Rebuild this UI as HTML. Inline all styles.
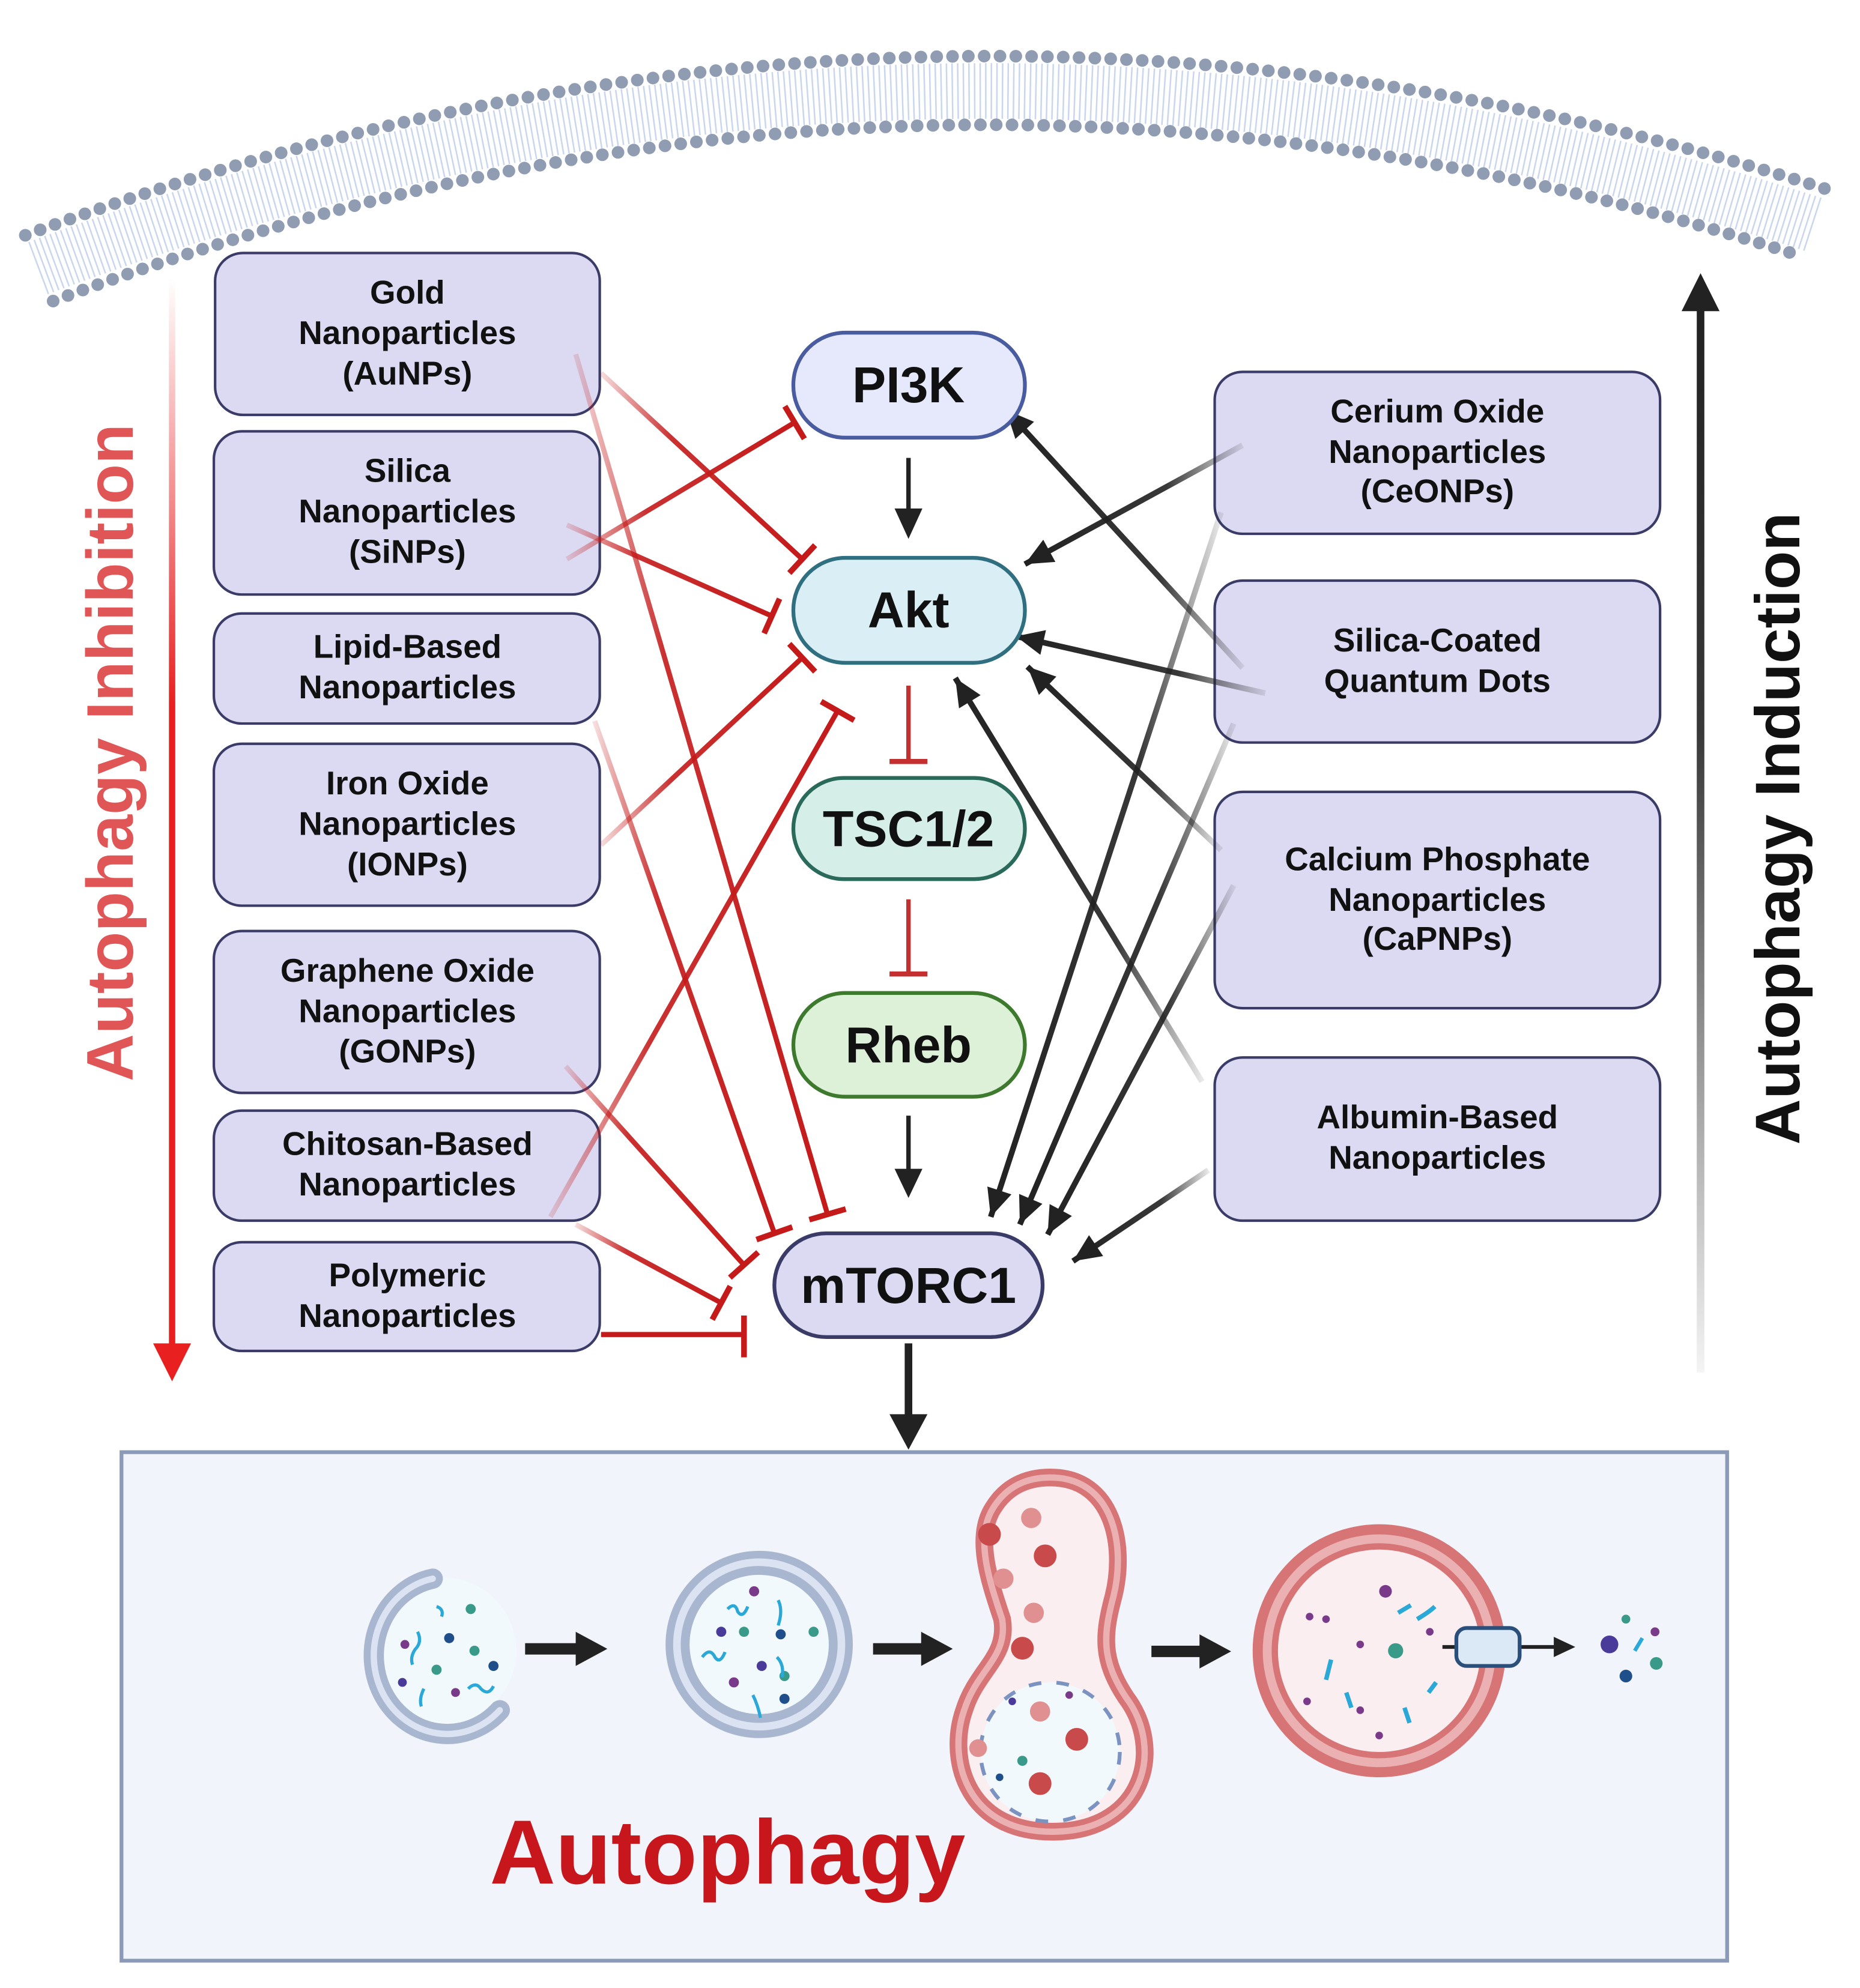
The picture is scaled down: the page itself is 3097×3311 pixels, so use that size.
<!DOCTYPE html>
<html><head><meta charset="utf-8"><style>
html,body{margin:0;padding:0;background:#fff;}
svg{display:block;}
text{font-family:"Liberation Sans",sans-serif;font-weight:bold;}
</style></head><body>
<svg width="3097" height="3311" viewBox="0 0 1470 1571.6" xmlns="http://www.w3.org/2000/svg">
<defs>
<linearGradient id="rg" x1="0" y1="0" x2="1" y2="0"><stop offset="0" stop-color="#c41a1a" stop-opacity="0.15"/><stop offset="0.35" stop-color="#c41a1a" stop-opacity="0.9"/><stop offset="1" stop-color="#c41a1a"/></linearGradient>
<linearGradient id="bg" x1="1" y1="0" x2="0" y2="0"><stop offset="0" stop-color="#222" stop-opacity="0.1"/><stop offset="0.35" stop-color="#222" stop-opacity="0.9"/><stop offset="1" stop-color="#222"/></linearGradient>
<linearGradient id="inh" x1="0" y1="0" x2="0" y2="1"><stop offset="0" stop-color="#e82020" stop-opacity="0"/><stop offset="0.4" stop-color="#e82020"/><stop offset="1" stop-color="#e82020"/></linearGradient>
<linearGradient id="ind" x1="0" y1="1" x2="0" y2="0"><stop offset="0" stop-color="#222" stop-opacity="0.05"/><stop offset="0.6" stop-color="#222" stop-opacity="0.9"/><stop offset="1" stop-color="#222"/></linearGradient>
<marker id="tb" markerUnits="userSpaceOnUse" markerWidth="40" markerHeight="40" refX="20" refY="20" orient="auto"><path d="M20,5 L20,35" stroke="#c41a1a" stroke-width="4.5"/></marker>
<marker id="ah" markerUnits="userSpaceOnUse" markerWidth="30" markerHeight="30" refX="26" refY="15" orient="auto"><path d="M4,5 L26,15 L4,25 Z" fill="#222"/></marker>
</defs>

<!-- membrane -->
<path d="M30,212 Q730,-50 1435,178" fill="none" stroke="#c9d6ee" stroke-width="44" stroke-dasharray="1.2 3.2"/>
<path d="M20,186 Q730,-78 1445,150" fill="none" stroke="#8f9cb2" stroke-width="10" stroke-linecap="round" stroke-dasharray="0 12.5"/>
<path d="M42,238 Q730,-22 1425,203" fill="none" stroke="#8f9cb2" stroke-width="10" stroke-linecap="round" stroke-dasharray="0 12.5"/>

<!-- side arrows -->
<rect x="133.5" y="220" width="5" height="845" fill="url(#inh)"/>
<path d="M121,1062 L151,1062 L136,1092 Z" fill="#e82020"/>
<text transform="translate(105,595) rotate(-90)" text-anchor="middle" font-size="52" fill="#e05555">Autophagy Inhibition</text>
<rect x="1341" y="240" width="6" height="845" fill="url(#ind)"/>
<path d="M1329,246 L1359,246 L1344,216 Z" fill="#222"/>
<text transform="translate(1422,655) rotate(-90)" text-anchor="middle" font-size="50" fill="#111">Autophagy Induction</text>

<!-- left boxes -->
<g fill="#dcdaf2" stroke="#3b3b68" stroke-width="2">
<rect x="170" y="200" width="304" height="128" rx="22"/>
<rect x="169" y="341" width="305" height="129" rx="22"/>
<rect x="169" y="485" width="305" height="87" rx="22"/>
<rect x="169" y="588" width="305" height="128" rx="22"/>
<rect x="169" y="736" width="305" height="128" rx="22"/>
<rect x="169" y="878" width="305" height="87" rx="22"/>
<rect x="169" y="982" width="305" height="86" rx="22"/>
</g>
<g font-size="26" text-anchor="middle" fill="#111">
<text x="322" y="240">Gold</text><text x="322" y="272">Nanoparticles</text><text x="322" y="304">(AuNPs)</text>
<text x="322" y="381">Silica</text><text x="322" y="413">Nanoparticles</text><text x="322" y="445">(SiNPs)</text>
<text x="322" y="520">Lipid-Based</text><text x="322" y="552">Nanoparticles</text>
<text x="322" y="628">Iron Oxide</text><text x="322" y="660">Nanoparticles</text><text x="322" y="692">(IONPs)</text>
<text x="322" y="776">Graphene Oxide</text><text x="322" y="808">Nanoparticles</text><text x="322" y="840">(GONPs)</text>
<text x="322" y="913">Chitosan-Based</text><text x="322" y="945">Nanoparticles</text>
<text x="322" y="1017">Polymeric</text><text x="322" y="1049">Nanoparticles</text>
</g>

<!-- right boxes -->
<g fill="#dcdaf2" stroke="#3b3b68" stroke-width="2">
<rect x="960" y="294" width="352" height="128" rx="22"/>
<rect x="960" y="459" width="352" height="128" rx="22"/>
<rect x="960" y="626" width="352" height="171" rx="22"/>
<rect x="960" y="836" width="352" height="129" rx="22"/>
</g>
<g font-size="26" text-anchor="middle" fill="#111">
<text x="1136" y="334">Cerium Oxide</text><text x="1136" y="366">Nanoparticles</text><text x="1136" y="397">(CeONPs)</text>
<text x="1136" y="515">Silica-Coated</text><text x="1136" y="547">Quantum Dots</text>
<text x="1136" y="688">Calcium Phosphate</text><text x="1136" y="720">Nanoparticles</text><text x="1136" y="751">(CaPNPs)</text>
<text x="1136" y="892">Albumin-Based</text><text x="1136" y="924">Nanoparticles</text>
</g>

<!-- red inhibition lines -->
<g stroke="url(#rg)" stroke-width="4" fill="none" marker-end="url(#tb)">
<line x1="475" y1="295" x2="634" y2="442"/>
<line x1="448" y1="442" x2="628" y2="334"/>
<line x1="448" y1="415" x2="610" y2="487"/>
<line x1="475" y1="668" x2="634" y2="520"/>
<line x1="435" y1="962" x2="662" y2="562"/>
<line x1="455" y1="280" x2="654" y2="960"/>
<line x1="470" y1="570" x2="612" y2="975"/>
<line x1="447" y1="843" x2="588" y2="1000"/>
<line x1="455" y1="968" x2="570" y2="1030"/>
</g>
<line x1="475" y1="1055" x2="588" y2="1055" stroke="#c41a1a" stroke-width="4"/>
<line x1="588" y1="1040" x2="588" y2="1073" stroke="#c41a1a" stroke-width="4.5"/>

<!-- black activation arrows -->
<g stroke="url(#bg)" stroke-width="4.5" fill="none" marker-end="url(#ah)">
<line x1="982" y1="352" x2="810" y2="446"/>
<line x1="982" y1="528" x2="795" y2="324"/>
<line x1="1000" y1="548" x2="803" y2="503"/>
<line x1="965" y1="672" x2="812" y2="527"/>
<line x1="950" y1="855" x2="755" y2="536"/>
<line x1="965" y1="405" x2="783" y2="962"/>
<line x1="975" y1="572" x2="806" y2="968"/>
<line x1="975" y1="700" x2="828" y2="976"/>
<line x1="955" y1="925" x2="848" y2="997"/>
</g>

<!-- center nodes -->
<rect x="627" y="263" width="183" height="83" rx="41" fill="#e6e9fb" stroke="#4a5ca0" stroke-width="3"/>
<text x="718" y="318" font-size="40" text-anchor="middle" fill="#111">PI3K</text>
<rect x="627" y="441" width="183" height="83" rx="41" fill="#d9eef5" stroke="#2f6f7f" stroke-width="3"/>
<text x="718" y="496" font-size="40" text-anchor="middle" fill="#111">Akt</text>
<rect x="627" y="615" width="183" height="80" rx="40" fill="#d5eee8" stroke="#2a6a5a" stroke-width="3"/>
<text x="718" y="669" font-size="40" text-anchor="middle" fill="#111">TSC1/2</text>
<rect x="627" y="785" width="183" height="82" rx="41" fill="#dcf1d8" stroke="#3d7a2e" stroke-width="3"/>
<text x="718" y="840" font-size="40" text-anchor="middle" fill="#111">Rheb</text>
<rect x="612" y="975" width="212" height="82" rx="41" fill="#dcdaf2" stroke="#3b3b68" stroke-width="3"/>
<text x="718" y="1030" font-size="40" text-anchor="middle" fill="#111">mTORC1</text>

<!-- vertical connectors -->
<line x1="718" y1="362" x2="718" y2="403" stroke="#222" stroke-width="3.5"/>
<path d="M707,402 L729,402 L718,426 Z" fill="#222"/>
<line x1="718" y1="542" x2="718" y2="602" stroke="#c43030" stroke-width="3.5"/>
<line x1="703" y1="602" x2="733" y2="602" stroke="#c43030" stroke-width="4"/>
<line x1="718" y1="711" x2="718" y2="770" stroke="#c43030" stroke-width="3.5"/>
<line x1="703" y1="770" x2="733" y2="770" stroke="#c43030" stroke-width="4"/>
<line x1="718" y1="882" x2="718" y2="925" stroke="#222" stroke-width="3.5"/>
<path d="M707,924 L729,924 L718,947 Z" fill="#222"/>
<line x1="718" y1="1062" x2="718" y2="1120" stroke="#222" stroke-width="6"/>
<path d="M703,1118 L733,1118 L718,1146 Z" fill="#222"/>

<!-- bottom box -->
<rect x="96" y="1148" width="1269" height="402" fill="#f1f4fa" stroke="#8a9ab8" stroke-width="3"/>
<text x="575" y="1489" font-size="72" text-anchor="middle" fill="#c8161d">Autophagy</text>

<!-- phagophore -->
<circle cx="350" cy="1305" r="58" fill="#f2f9fd"/>
<path d="M342,1248 A58,62 0 1 0 395,1352" fill="none" stroke="#a9b6cf" stroke-width="16" stroke-linecap="round"/>
<path d="M342,1248 A58,62 0 1 0 395,1352" fill="none" stroke="#dbe3f2" stroke-width="5" stroke-linecap="round"/>
<g fill="#7a3a8a"><circle cx="320" cy="1300" r="3.5"/><circle cx="355" cy="1295" r="4" fill="#1e4f8a"/><circle cx="372" cy="1272" r="4" fill="#3a9a8a"/><circle cx="375" cy="1305" r="4" fill="#3a9a8a"/><circle cx="345" cy="1320" r="4" fill="#3a9a8a"/><circle cx="390" cy="1317" r="4" fill="#1e4f8a"/><circle cx="318" cy="1330" r="3.5" fill="#4a3a9a"/><circle cx="360" cy="1338" r="3.5"/></g>
<g stroke="#2aa8d8" stroke-width="2.5" fill="none"><path d="M330,1290 q4,8 -2,14 q-4,6 -2,12"/><path d="M345,1270 q6,2 4,8"/><path d="M370,1335 q6,-6 10,0 q6,6 10,-2"/><path d="M335,1335 q-4,8 -2,14"/></g>

<!-- autophagosome -->
<circle cx="600" cy="1300" r="74" fill="#a9b6cf"/>
<circle cx="600" cy="1300" r="68" fill="#dbe3f2"/>
<circle cx="600" cy="1300" r="62" fill="#a9b6cf"/>
<circle cx="600" cy="1300" r="55" fill="#f2f9fd"/>
<g><circle cx="596" cy="1258" r="4" fill="#7a3a8a"/><circle cx="570" cy="1290" r="4" fill="#4a3a9a"/><circle cx="588" cy="1290" r="4" fill="#3a9a8a"/><circle cx="617" cy="1292" r="4" fill="#1e4f8a"/><circle cx="643" cy="1290" r="4" fill="#3a9a8a"/><circle cx="602" cy="1317" r="4" fill="#4a3a9a"/><circle cx="620" cy="1325" r="4" fill="#3a9a8a"/><circle cx="580" cy="1330" r="4" fill="#7a3a8a"/><circle cx="620" cy="1343" r="4" fill="#1e4f8a"/></g>
<g stroke="#2aa8d8" stroke-width="2.5" fill="none"><path d="M575,1272 q6,-6 8,2 q4,6 8,-4"/><path d="M615,1265 q4,8 0,20"/><path d="M555,1310 q6,-8 10,0 q4,6 8,-4"/><path d="M614,1310 q6,6 4,16"/><path d="M595,1340 q4,8 6,18"/></g>

<!-- fusion -->
<path d="M830,1168 C880,1168 890,1222 880,1262 C872,1292 870,1312 890,1342 C920,1382 905,1446 835,1448 C765,1450 748,1392 762,1352 C772,1320 797,1310 792,1280 C782,1250 770,1215 785,1192 C795,1176 810,1168 830,1168 Z" fill="#fbeef0" stroke="#d77476" stroke-width="14"/>
<path d="M830,1168 C880,1168 890,1222 880,1262 C872,1292 870,1312 890,1342 C920,1382 905,1446 835,1448 C765,1450 748,1392 762,1352 C772,1320 797,1310 792,1280 C782,1250 770,1215 785,1192 C795,1176 810,1168 830,1168 Z" fill="none" stroke="#eab0b2" stroke-width="5"/>
<ellipse cx="830" cy="1385" rx="55" ry="55" fill="#f2f9fd" stroke="#7b93c0" stroke-width="3" stroke-dasharray="10 12"/>
<g fill="#c94a4a"><circle cx="782" cy="1213" r="9"/><circle cx="826" cy="1230" r="9"/><circle cx="808" cy="1303" r="9"/><circle cx="851" cy="1375" r="9"/><circle cx="822" cy="1410" r="9"/></g>
<g fill="#e09090"><circle cx="815" cy="1200" r="8"/><circle cx="793" cy="1248" r="8"/><circle cx="817" cy="1275" r="8"/><circle cx="822" cy="1353" r="8"/><circle cx="773" cy="1382" r="7"/></g>
<g><circle cx="800" cy="1345" r="3" fill="#4a3a9a"/><circle cx="808" cy="1392" r="4" fill="#3a9a8a"/><circle cx="845" cy="1340" r="3" fill="#7a3a8a"/><circle cx="790" cy="1405" r="3" fill="#1e4f8a"/></g>

<!-- autolysosome -->
<circle cx="1090" cy="1305" r="100" fill="#d77476"/>
<circle cx="1090" cy="1305" r="92" fill="#eab0b2"/>
<circle cx="1090" cy="1305" r="85" fill="#d77476"/>
<circle cx="1090" cy="1305" r="80" fill="#fbeef0"/>
<circle cx="1103" cy="1305" r="6" fill="#3a9a8a"/>
<g fill="#7a3a8a"><circle cx="1095" cy="1258" r="5"/><circle cx="1035" cy="1278" r="3"/><circle cx="1048" cy="1280" r="3"/><circle cx="1075" cy="1300" r="3"/><circle cx="1130" cy="1290" r="3"/><circle cx="1075" cy="1352" r="3"/><circle cx="1033" cy="1345" r="3"/><circle cx="1090" cy="1372" r="3"/></g>
<g stroke="#2aa8d8" stroke-width="3.5" fill="none"><path d="M1120,1280 q10,-6 14,-10"/><path d="M1052,1312 l-4,16"/><path d="M1064,1338 l4,12"/><path d="M1110,1350 l4,12"/><path d="M1135,1330 l-6,8"/><path d="M1105,1275 l10,-6"/></g>
<line x1="1140" y1="1302" x2="1230" y2="1302" stroke="#222" stroke-width="3"/>
<path d="M1228,1294 L1245,1302 L1228,1310 Z" fill="#222"/>
<rect x="1151" y="1287" width="50" height="30" rx="8" fill="#dbe8f6" stroke="#2a4f7a" stroke-width="3"/>
<g><circle cx="1272" cy="1300" r="7" fill="#4a3a9a"/><circle cx="1285" cy="1280" r="3.5" fill="#3a9a8a"/><circle cx="1308" cy="1290" r="3.5" fill="#7a3a8a"/><circle cx="1309" cy="1315" r="5" fill="#3a9a8a"/><circle cx="1285" cy="1325" r="5" fill="#1e4f8a"/><path d="M1292,1305 l6,-10" stroke="#2aa8d8" stroke-width="3"/></g>

<!-- process arrows -->
<g fill="#222">
<rect x="415" y="1299" width="42" height="9"/><path d="M455,1290 L480,1303.5 L455,1317 Z"/>
<rect x="690" y="1299" width="40" height="9"/><path d="M728,1290 L753,1303.5 L728,1317 Z"/>
<rect x="910" y="1301" width="40" height="9"/><path d="M948,1292 L973,1305.5 L948,1319 Z"/>
</g>
</svg>
</body></html>
